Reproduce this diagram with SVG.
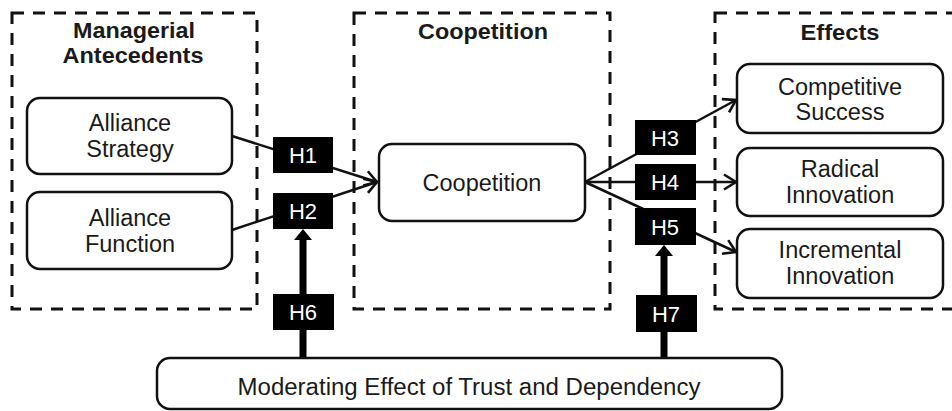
<svg xmlns="http://www.w3.org/2000/svg" width="952" height="411" viewBox="0 0 952 411">
  <defs>
    <style>
      .frame { fill: none; stroke: #111; stroke-width: 3; stroke-dasharray: 12 9; }
      .node { fill: #fff; stroke: #111; stroke-width: 2.5; }
      .tag { fill: #000; }
      .link { fill: none; stroke: #111; stroke-width: 2.5; }
      .stem { fill: none; stroke: #000; stroke-width: 7; }
      .title { font-family: "Liberation Sans", Arial, sans-serif; font-weight: bold; font-size: 22px; fill: #1a1a1a; text-anchor: middle; }
      .label { font-family: "Liberation Sans", Arial, sans-serif; font-size: 23.5px; fill: #1a1a1a; text-anchor: middle; }
      .tagtext { font-family: "Liberation Sans", Arial, sans-serif; font-size: 22px; fill: #fff; text-anchor: middle; }
    </style>
    <marker id="chevron" viewBox="0 0 15 18" refX="13" refY="9" markerWidth="15" markerHeight="18" markerUnits="userSpaceOnUse" orient="auto">
      <path d="M1,1.5 L13,9 L1,16.5" fill="none" stroke="#111" stroke-width="2.6"/>
    </marker>
  </defs>

  <rect width="952" height="411" fill="#fff"/>

  <!-- dashed grouping frames -->
  <g id="group-antecedents">
    <rect class="frame" x="12" y="13" width="245" height="296"/>
    <text class="title" x="134" y="38" textLength="122" lengthAdjust="spacingAndGlyphs">Managerial</text>
    <text class="title" x="133" y="63" textLength="141" lengthAdjust="spacingAndGlyphs">Antecedents</text>
  </g>
  <g id="group-coopetition">
    <rect class="frame" x="354" y="13" width="256" height="296"/>
    <text class="title" x="483" y="39" textLength="130" lengthAdjust="spacingAndGlyphs">Coopetition</text>
  </g>
  <g id="group-effects">
    <rect class="frame" x="715" y="13" width="255" height="296"/>
    <text class="title" x="840" y="40" textLength="79" lengthAdjust="spacingAndGlyphs">Effects</text>
  </g>

  <!-- connectors -->
  <g id="connectors">
    <line class="link" x1="232" y1="136" x2="377" y2="182" marker-end="url(#chevron)"/>
    <line class="link" x1="232" y1="230" x2="377" y2="182" marker-end="url(#chevron)"/>
    <line class="link" x1="585" y1="182" x2="736" y2="100" marker-end="url(#chevron)"/>
    <line class="link" x1="585" y1="182" x2="736" y2="182" marker-end="url(#chevron)"/>
    <line class="link" x1="585" y1="182" x2="736" y2="252" marker-end="url(#chevron)"/>
    <line class="stem" x1="303" y1="358" x2="303" y2="238"/>
    <polygon points="303,229 294,240 312,240" fill="#000"/>
    <line class="stem" x1="664" y1="358" x2="664" y2="254"/>
    <polygon points="664,245 655,256 673,256" fill="#000"/>
  </g>

  <!-- construct nodes -->
  <g id="alliance-strategy">
    <rect class="node" x="27" y="98" width="205" height="76" rx="13"/>
    <text class="label" x="130" y="131">Alliance</text>
    <text class="label" x="130" y="157">Strategy</text>
  </g>
  <g id="alliance-function">
    <rect class="node" x="27" y="192" width="205" height="77" rx="13"/>
    <text class="label" x="130" y="226">Alliance</text>
    <text class="label" x="130" y="252">Function</text>
  </g>
  <g id="coopetition">
    <rect class="node" x="379" y="144" width="206" height="77" rx="13"/>
    <text class="label" x="482" y="191">Coopetition</text>
  </g>
  <g id="competitive-success">
    <rect class="node" x="737" y="64" width="206" height="69" rx="13"/>
    <text class="label" x="840" y="95">Competitive</text>
    <text class="label" x="840" y="120">Success</text>
  </g>
  <g id="radical-innovation">
    <rect class="node" x="737" y="148" width="206" height="68" rx="13"/>
    <text class="label" x="840" y="177">Radical</text>
    <text class="label" x="840" y="203">Innovation</text>
  </g>
  <g id="incremental-innovation">
    <rect class="node" x="737" y="229" width="206" height="69" rx="13"/>
    <text class="label" x="840" y="258">Incremental</text>
    <text class="label" x="840" y="284">Innovation</text>
  </g>
  <g id="moderating-effect">
    <rect class="node" x="157" y="358" width="625" height="51" rx="13"/>
    <text class="label" x="469" y="395" textLength="463" lengthAdjust="spacingAndGlyphs">Moderating Effect of Trust and Dependency</text>
  </g>

  <!-- hypothesis tags -->
  <g id="h1"><rect class="tag" x="273" y="137" width="60" height="36"/><text class="tagtext" x="303" y="163">H1</text></g>
  <g id="h2"><rect class="tag" x="273" y="193" width="60" height="36"/><text class="tagtext" x="303" y="219">H2</text></g>
  <g id="h6"><rect class="tag" x="273" y="294" width="61" height="36"/><text class="tagtext" x="303" y="320">H6</text></g>
  <g id="h3"><rect class="tag" x="635" y="120" width="61" height="35"/><text class="tagtext" x="665" y="146">H3</text></g>
  <g id="h4"><rect class="tag" x="635" y="164" width="61" height="36"/><text class="tagtext" x="665" y="190">H4</text></g>
  <g id="h5"><rect class="tag" x="635" y="208" width="61" height="37"/><text class="tagtext" x="665" y="235">H5</text></g>
  <g id="h7"><rect class="tag" x="636" y="295" width="61" height="37"/><text class="tagtext" x="666" y="322">H7</text></g>
</svg>
